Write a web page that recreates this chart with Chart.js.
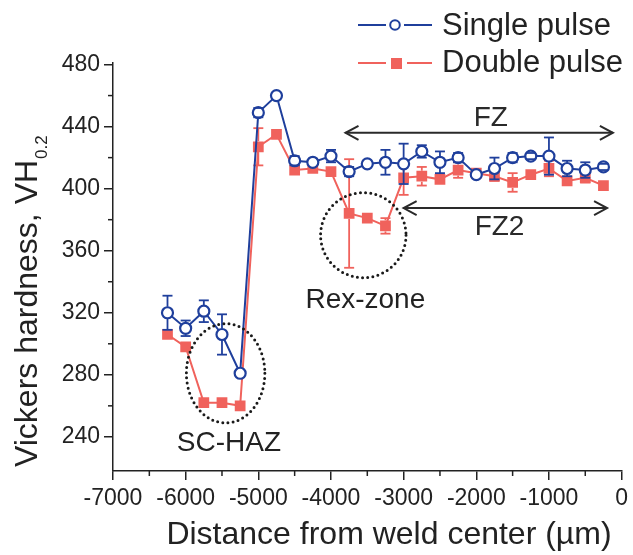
<!DOCTYPE html>
<html>
<head>
<meta charset="utf-8">
<script src="https://cdn.jsdelivr.net/npm/chart.js@4/dist/chart.umd.min.js"></script>
<style>
  html, body { margin: 0; padding: 0; background: #fff; }
</style>
</head>
<body>
<canvas id="hardness" width="633" height="555"></canvas>
<script>
// distance from weld center (um), one measurement every 250 um
const distance = [-6250, -6000, -5750, -5500, -5250, -5000, -4750, -4500, -4250, -4000,
  -3750, -3500, -3250, -3000, -2750, -2500, -2250, -2000, -1750, -1500,
  -1250, -1000, -750, -500, -250];

const singlePulse = [320, 310, 321, 306, 281, 449, 460, 418, 417, 421,
  411, 416, 417, 416, 424, 417, 420, 409, 413, 420,
  421, 421, 413, 412, 414];
const singleErr = [11, 5, 7, 13, 0, 3, 0, 3, 0, 4,
  3, 0, 8, 13, 4, 7, 3, 0, 7, 3,
  2, 12, 5, 5, 2];

const doublePulse = [306, 298, 262, 262, 260, 427, 435, 412, 413, 411,
  384, 381, 376, 407, 408, 406, 412, 410, 408, 404,
  409, 413, 405, 407, 402];
const doubleErr = [0, 0, 0, 0, 0, 12, 0, 0, 0, 0,
  35, 0, 5, 11, 6, 0, 5, 0, 3, 6,
  0, 5, 0, 3, 0];

const xTicks = [-7000, -6000, -5000, -4000, -3000, -2000, -1000, 0];
const yTicks = [240, 280, 320, 360, 400, 440, 480];

const blue = '#1f3f9c';
const red = '#f0625c';
const ink = '#222222';
const family = '"Liberation Sans", Arial, Helvetica, sans-serif';

// zone annotations, in data units
const arrows = [
  { text: 'FZ', from: -3800, to: -120, y: 436, tx: -1800, ty: 445.5 },
  { text: 'FZ2', from: -3000, to: -200, y: 387.5, tx: -1680, ty: 375 }
];
const rings = [
  { text: 'SC-HAZ', cx: -5450, cy: 281, rx: 540, ry: 32, tx: -5405, ty: 236 },
  { text: 'Rex-zone', cx: -3555, cy: 370, rx: 588, ry: 27.4, tx: -3527, ty: 328 }
];

function seg(ctx, x1, y1, x2, y2) {
  ctx.beginPath();
  ctx.moveTo(x1, y1);
  ctx.lineTo(x2, y2);
  ctx.stroke();
}

// error bars, drawn on top of each series' markers
const errorBars = {
  id: 'errorBars',
  afterDatasetDraw(chart, args) {
    const ds = chart.data.datasets[args.index];
    const y = chart.scales.y;
    const ctx = chart.ctx;
    ctx.save();
    ctx.strokeStyle = ds.borderColor;
    ctx.lineWidth = 1.8;
    args.meta.data.forEach((pt, i) => {
      const e = ds.errors[i];
      if (!e) return;
      const v = ds.data[i].y;
      const top = y.getPixelForValue(v + e);
      const bot = y.getPixelForValue(v - e);
      const r = ds.markerHalf;
      if (pt.y - top > r) seg(ctx, pt.x, pt.y - r, pt.x, top);
      if (bot - pt.y > r) seg(ctx, pt.x, pt.y + r, pt.x, bot);
      seg(ctx, pt.x - 5, top, pt.x + 5, top);
      seg(ctx, pt.x - 5, bot, pt.x + 5, bot);
    });
    ctx.restore();
  }
};

const decorations = {
  id: 'decorations',
  afterDraw(chart) {
    const { ctx, scales: { x, y }, chartArea } = chart;
    ctx.save();

    // minor ticks
    ctx.strokeStyle = ink;
    ctx.lineWidth = 1.5;
    for (let v = -6500; v < 0; v += 1000) {
      const px = x.getPixelForValue(v);
      seg(ctx, px, chartArea.bottom, px, chartArea.bottom + 5);
    }
    for (let v = 260; v < 480; v += 40) {
      const py = y.getPixelForValue(v);
      seg(ctx, chartArea.left - 5, py, chartArea.left, py);
    }

    // double arrows
    ctx.strokeStyle = '#2a2a2a';
    ctx.fillStyle = '#2a2a2a';
    ctx.lineWidth = 2;
    ctx.textAlign = 'center';
    ctx.textBaseline = 'middle';
    ctx.font = '28px ' + family;
    arrows.forEach(a => {
      const x1 = x.getPixelForValue(a.from);
      const x2 = x.getPixelForValue(a.to);
      const py = y.getPixelForValue(a.y);
      seg(ctx, x1, py, x2, py);
      ctx.beginPath();
      ctx.moveTo(x1 + 13, py - 7); ctx.lineTo(x1, py); ctx.lineTo(x1 + 13, py + 7);
      ctx.moveTo(x2 - 13, py - 7); ctx.lineTo(x2, py); ctx.lineTo(x2 - 13, py + 7);
      ctx.stroke();
      ctx.fillText(a.text, x.getPixelForValue(a.tx), y.getPixelForValue(a.ty));
    });

    // dotted rings
    rings.forEach(c => {
      const cx = x.getPixelForValue(c.cx);
      const cy = y.getPixelForValue(c.cy);
      const rx = Math.abs(x.getPixelForValue(c.cx + c.rx) - cx);
      const ry = Math.abs(y.getPixelForValue(c.cy + c.ry) - cy);
      ctx.save();
      ctx.strokeStyle = '#1a1a1a';
      ctx.lineWidth = 3;
      ctx.lineCap = 'round';
      ctx.setLineDash([0, 5.2]);
      ctx.beginPath();
      ctx.ellipse(cx, cy, rx, ry, 0, 0, Math.PI * 2);
      ctx.stroke();
      ctx.restore();
      ctx.fillStyle = ink;
      ctx.fillText(c.text, x.getPixelForValue(c.tx), y.getPixelForValue(c.ty));
    });

    // axis titles
    ctx.fillStyle = ink;
    ctx.textBaseline = 'alphabetic';
    ctx.font = '32px ' + family;
    ctx.fillText('Distance from weld center (\u00b5m)', 389, 544);

    ctx.save();
    ctx.translate(37, 467);
    ctx.rotate(-Math.PI / 2);
    ctx.textAlign = 'left';
    ctx.font = '32px ' + family;
    const main = 'Vickers hardness, VH';
    ctx.fillText(main, 0, 0);
    const w = ctx.measureText(main).width;
    ctx.font = '17px ' + family;
    ctx.fillText('0.2', w + 1, 10);
    ctx.restore();

    // legend
    ctx.lineWidth = 2;
    ctx.strokeStyle = blue;
    seg(ctx, 358, 25, 386, 25);
    seg(ctx, 404, 25, 432, 25);
    ctx.beginPath();
    ctx.arc(395, 25, 4.8, 0, Math.PI * 2);
    ctx.fillStyle = '#fff';
    ctx.fill();
    ctx.stroke();
    ctx.strokeStyle = red;
    seg(ctx, 358, 63, 386, 63);
    seg(ctx, 407, 63, 432, 63);
    ctx.fillStyle = red;
    ctx.fillRect(391, 58, 11, 11);
    ctx.fillStyle = ink;
    ctx.textAlign = 'left';
    ctx.font = '31px ' + family;
    ctx.fillText('Single pulse', 442, 35);
    ctx.fillText('Double pulse', 442, 72);

    ctx.restore();
  }
};

const tickFont = { family: family, size: 23 };

new Chart(document.getElementById('hardness'), {
  type: 'line',
  data: {
    datasets: [
      {
        label: 'Single pulse',
        data: distance.map((d, i) => ({ x: d, y: singlePulse[i] })),
        errors: singleErr,
        markerHalf: 6,
        borderColor: blue,
        borderWidth: 2,
        pointStyle: 'circle',
        pointRadius: 5.5,
        pointBorderWidth: 2.2,
        pointBackgroundColor: '#fff',
        pointBorderColor: blue
      },
      {
        label: 'Double pulse',
        data: distance.map((d, i) => ({ x: d, y: doublePulse[i] })),
        errors: doubleErr,
        markerHalf: 5.5,
        borderColor: red,
        borderWidth: 2,
        pointStyle: 'rect',
        pointRadius: 7.6,
        pointBorderWidth: 0,
        pointBackgroundColor: red,
        pointBorderColor: red
      }
    ]
  },
  options: {
    responsive: false,
    animation: false,
    events: [],
    layout: { padding: { top: 63, right: 8, left: 0, bottom: 0 } },
    plugins: { legend: { display: false }, tooltip: { enabled: false } },
    scales: {
      x: {
        type: 'linear',
        min: -7000,
        max: 0,
        afterBuildTicks: s => { s.ticks = xTicks.map(v => ({ value: v })); },
        afterFit: s => { s.height = 84; },
        ticks: { font: tickFont, color: ink, padding: 5, maxRotation: 0, autoSkip: false,
          callback: v => String(v) },
        grid: { drawOnChartArea: false, drawTicks: true, tickLength: 9, color: ink, lineWidth: 1.5 },
        border: { color: ink, width: 1.5 }
      },
      y: {
        min: 218,
        max: 481,
        afterBuildTicks: s => { s.ticks = yTicks.map(v => ({ value: v })); },
        afterFit: s => { s.width = 113; },
        ticks: { font: tickFont, color: ink, padding: 4, callback: v => String(v) },
        grid: { drawOnChartArea: false, drawTicks: true, tickLength: 9, color: ink, lineWidth: 1.5 },
        border: { color: ink, width: 1.5 }
      }
    }
  },
  plugins: [errorBars, decorations]
});
</script>
</body>
</html>
